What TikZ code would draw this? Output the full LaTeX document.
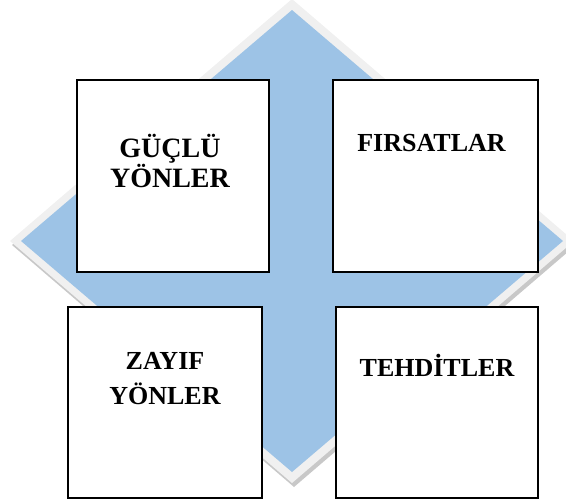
\documentclass[tikz,border=0pt]{standalone}
\usepackage{fontspec}
\setmainfont{Liberation Serif}
\usepackage{xcolor}
\usepackage{tikz}
\usetikzlibrary{positioning}
\definecolor{SwotBlue}{RGB}{157, 195, 230}
\definecolor{EdgeGrey}{RGB}{240, 240, 240}
\definecolor{ShadowGrey}{RGB}{200, 200, 200}

\begin{document}
\begin{tikzpicture}[x=1pt, y=-1pt,
    swotbox/.style={draw=black, fill=white, line width=1.8pt, inner sep=0pt},
    swottext/.style={align=center, font=\fontsize{26}{27}\selectfont\bfseries}]
      \useasboundingbox (0,0) rectangle (566,499);
      % diamond behind the four boxes
      \fill[ShadowGrey] (294,3) -- (576,245) -- (294,487) -- (12,245) -- cycle;
      \fill[EdgeGrey] (292,-1) -- (574,241) -- (292,483) -- (10,241) -- cycle;
      \fill[SwotBlue] (292,10) -- (563,241) -- (292,472) -- (21,241) -- cycle;

      \node[swotbox, minimum width=192pt, minimum height=192pt] (guclu) at (173,176) {};
      \node[swotbox, minimum width=205pt, minimum height=192pt] (firsat) at (435.5,176) {};
      \node[swotbox, minimum width=194pt, minimum height=191pt] (zayif) at (165,402.5) {};
      \node[swotbox, minimum width=202pt, minimum height=191pt] (tehdit) at (437,402.5) {};

      \node[swottext, font=\fontsize{28}{27}\selectfont\bfseries] (gucluText)
            at ([xshift=-3pt, yshift=15pt]guclu.center) {GÜÇLÜ\\YÖNLER};
      \node[swottext] (firsatText) at ([xshift=-4pt, yshift=33pt]firsat.center) {FIRSATLAR};
      \node[swottext] (zayifText) at ([yshift=24pt]zayif.center) {ZAYIF\\[8pt]YÖNLER};
      \node[swottext] (tehditText) at ([yshift=37pt]tehdit.center) {TEHDİTLER};
    \end{tikzpicture}
\end{document}
